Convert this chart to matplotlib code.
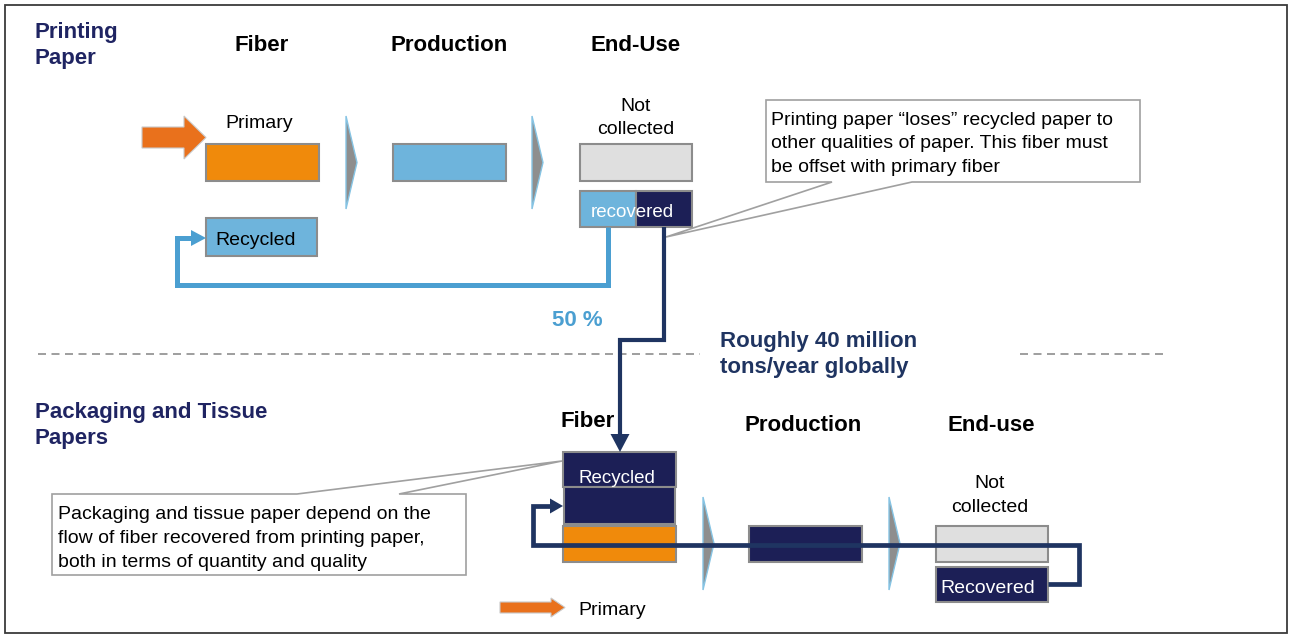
import matplotlib
matplotlib.use("Agg")
import matplotlib.pyplot as plt
from matplotlib.patches import Rectangle, Polygon

plt.rcParams['font.family'] = ['Liberation Sans', 'DejaVu Sans']

# Labels and figures shown on the flow diagram
section_titles = [["Printing", "Paper"], ["Packaging and Tissue", "Papers"]]
stages_top = ["Fiber", "Production", "End-Use"]
stages_bottom = ["Fiber", "Production", "End-use"]
not_collected = ["Not", "collected"]
recycled_share = 50          # % of recovered printing fiber going back to printing paper
global_flow = ["Roughly 40 million", "tons/year globally"]
note_top = ["Printing paper \u201closes\u201d recycled paper to",
            "other qualities of paper. This fiber must",
            "be offset with primary fiber"]
note_bottom = ["Packaging and tissue paper depend on the",
               "flow of fiber recovered from printing paper,",
               "both in terms of quantity and quality"]

ORANGE = '#F08A0B'
ARROW_ORANGE = '#E9711C'
LIGHT_BLUE = '#6EB4DC'
LINE_BLUE = '#4B9FD1'
NAVY = '#1C1F56'
NAVY_LINE = '#1F3461'
TITLE_NAVY = '#1F2462'
GREY_BOX = '#DFDFDF'
EDGE = '#8C8C8C'

fig = plt.figure(figsize=(12.9, 6.39), dpi=100)
ax = fig.add_axes([0, 0, 1, 1])
ax.set_xlim(0, 1290)
ax.set_ylim(639, 0)
ax.axis('off')


def box(x0, y0, x1, y1, fc, z=2):
    ax.add_patch(Rectangle((x0, y0), x1 - x0, y1 - y0, facecolor=fc,
                           edgecolor=EDGE, lw=1.5, zorder=z))


def lines(x, y, rows, step, **kw):
    for i, s in enumerate(rows):
        ax.text(x, y + i * step, s, va='baseline', **kw)


def chevron(x0, y0, y1):
    ym = (y0 + y1) / 2
    ax.add_patch(Polygon([(x0, y0), (x0 + 11, ym), (x0, y1)], closed=True,
                         facecolor='#8E8E8E', edgecolor='#86C4E4', lw=1.0, zorder=2))


def elbow(pts, color, lw):
    xs, ys = zip(*pts)
    ax.plot(xs, ys, color=color, lw=lw, solid_joinstyle='miter',
            solid_capstyle='butt', zorder=4)


def head(tip, direction, color, length, width):
    x, y = tip
    h = width / 2
    if direction == 'right':
        pts = [(x - length, y - h), (x, y), (x - length, y + h)]
    else:  # down
        pts = [(x - h, y - length), (x, y), (x + h, y - length)]
    ax.add_patch(Polygon(pts, closed=True, facecolor=color, edgecolor='none', zorder=5))


def callout(x0, y0, x1, y1, b0, b1, tip, side):
    # box outline with a pointed tail leaving from one edge
    if side == 'bottom':
        pts = [(x0, y0), (x1, y0), (x1, y1), (b1, y1), tip, (b0, y1), (x0, y1)]
    else:
        pts = [(x0, y0), (b0, y0), tip, (b1, y0), (x1, y0), (x1, y1), (x0, y1)]
    ax.add_patch(Polygon(pts, closed=True, facecolor='white',
                         edgecolor='#A0A0A0', lw=1.2, zorder=3))


def fat_arrow(x0, x1, yc, shaft, head_h, head_len):
    xh = x1 - head_len
    pts = [(x0, yc - shaft / 2), (xh, yc - shaft / 2), (xh, yc - head_h / 2), (x1, yc),
           (xh, yc + head_h / 2), (xh, yc + shaft / 2), (x0, yc + shaft / 2)]
    ax.add_patch(Polygon(pts, closed=True, facecolor=ARROW_ORANGE,
                         edgecolor='#C9C9C9', lw=0.8, zorder=3))


# outer frame
ax.add_patch(Rectangle((4.5, 5), 1282.5, 628, facecolor='none',
                       edgecolor='#3A3A3A', lw=1.3, zorder=1))

# ---- printing paper ----
lines(35, 38, section_titles[0], 26, fontsize=16, fontweight='bold', color=TITLE_NAVY)
for xc, s in zip([262, 449, 636], stages_top):
    ax.text(xc, 51, s, ha='center', va='baseline', fontsize=16, fontweight='bold')

fat_arrow(142, 206, 137.5, 21, 43, 22)
ax.text(259, 128, "Primary", ha='center', va='baseline', fontsize=14)
box(206, 144, 319, 181, ORANGE)
chevron(346, 116, 209)
box(393, 144, 506, 181, LIGHT_BLUE)
chevron(532, 116, 209)
lines(636, 111, not_collected, 23.5, ha='center', fontsize=14)
box(580, 144, 692, 181, GREY_BOX)

# recovered paper split between printing and other grades
rx0, rx1 = 580, 692
rsplit = rx0 + (rx1 - rx0) * recycled_share / 100
box(rx0, 191, rsplit, 227, LIGHT_BLUE)
box(rsplit, 191, rx1, 227, NAVY)
ax.text(632, 217, "recovered", ha='center', va='baseline', fontsize=13.5,
        color='white', zorder=6)

box(206, 218, 317, 256, LIGHT_BLUE)
ax.text(215, 245, "Recycled", va='baseline', fontsize=14)

elbow([(608, 227), (608, 285), (177, 285), (177, 238), (193, 238)], LINE_BLUE, 3.6)
head((206, 238), 'right', LINE_BLUE, 15, 16)
ax.text(577, 326, f"{recycled_share} %", ha='center', va='baseline', fontsize=16,
        fontweight='bold', color=LINE_BLUE)

callout(766, 100, 1140, 182, 832, 912, (666, 237), 'bottom')
lines(771, 125, note_top, 23.5, fontsize=14, zorder=6)

# flow of recovered fiber down to the packaging grades
elbow([(664, 227), (664, 340), (620, 340), (620, 437)], NAVY_LINE, 3.0)
head((620, 452), 'down', NAVY_LINE, 18, 19)

# separator
ax.plot([38, 700], [354, 354], color='#A0A0A0', lw=1.44, dashes=(4, 2.75), zorder=1)
ax.plot([1020, 1168], [354, 354], color='#A0A0A0', lw=1.44, dashes=(4, 2.75), zorder=1)
lines(720, 347, global_flow, 26, fontsize=16, fontweight='bold', color=NAVY_LINE)

# ---- packaging and tissue ----
lines(35, 418, section_titles[1], 26, fontsize=16, fontweight='bold', color=TITLE_NAVY)
ax.text(588, 427, stages_bottom[0], ha='center', va='baseline', fontsize=16,
        fontweight='bold')
for xc, s in zip([803, 991], stages_bottom[1:]):
    ax.text(xc, 431, s, ha='center', va='baseline', fontsize=16, fontweight='bold')

callout(52, 494, 466, 575, 297, 399, (562, 461), 'top')
lines(58, 519, note_bottom, 24, fontsize=14, zorder=6)

box(563, 452, 676, 487, NAVY)
ax.text(617, 483, "Recycled", ha='center', va='baseline', fontsize=13.5,
        color='white', zorder=6)
box(564, 487, 675, 524, NAVY)
box(563, 526, 676, 562, ORANGE)
chevron(703, 497, 590)
box(749, 526, 862, 562, NAVY)
chevron(889, 497, 590)
lines(990, 488, not_collected, 24, ha='center', fontsize=14)
box(936, 526, 1048, 562, GREY_BOX)
box(936, 567, 1048, 602, NAVY)
ax.text(988, 593, "Recovered", ha='center', va='baseline', fontsize=14,
        color='white', zorder=6)

elbow([(1048, 584), (1079, 584), (1079, 545), (533, 545), (533, 506), (550, 506)],
      NAVY_LINE, 3.4)
head((563, 506), 'right', NAVY_LINE, 13, 15)

# legend
fat_arrow(500, 565, 607.5, 11, 19, 14)
ax.text(578, 615, "Primary", va='baseline', fontsize=14)

fig.savefig("out.png", dpi=100)
